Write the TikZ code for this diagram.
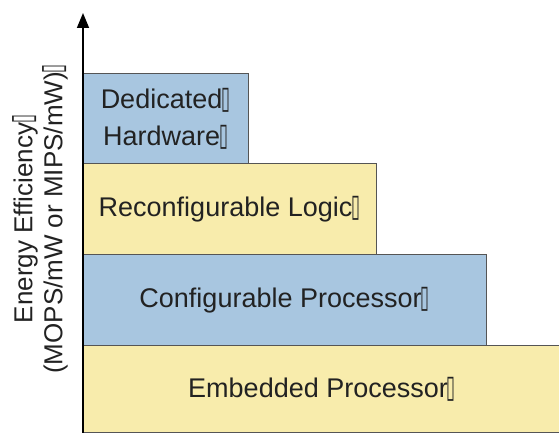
\documentclass[tikz,border=0pt]{standalone}
\usepackage{fontspec}
\usepackage{graphicx}
\setmainfont{Liberation Sans}
\newfontfamily\markfont{DejaVu Sans}
\usetikzlibrary{arrows.meta,positioning}
\definecolor{tierblue}{RGB}{168,198,224}
\definecolor{tieryellow}{RGB}{248,236,172}
\definecolor{tierline}{RGB}{85,85,85}
\definecolor{tiertext}{RGB}{34,34,34}
% trailing box mark after each label
\newcommand{\boxmark}{{\markfont\fontsize{18}{18}\selectfont\kern-1pt\scalebox{0.9}[1.75]{▯}}}
\tikzset{
  tier/.style={draw=tierline,line width=1pt,fill=#1,outer sep=0pt,inner sep=0pt,
    anchor=south west,text=tiertext,align=center,
    font=\fontsize{27}{37}\selectfont},
  axislabel/.style={rotate=90,align=center,text=tiertext,
    font=\fontsize{26}{30}\selectfont}
}

\begin{document}
\begin{tikzpicture}[x=1pt,y=1pt]
  \useasboundingbox (0,0) rectangle (559,433);
  % stacked tiers, bottom to top
  \node[tier=tieryellow,minimum width=478pt,minimum height=87pt] (embedded) at (83,0)
    {Embedded Processor\boxmark};
  \node[tier=tierblue,minimum width=403pt,minimum height=91pt] (configurable) at (embedded.north west)
    {Configurable Processor\boxmark};
  \node[tier=tieryellow,minimum width=293pt,minimum height=91pt] (reconfigurable) at (configurable.north west)
    {Reconfigurable Logic\boxmark};
  \node[tier=tierblue,minimum width=165pt,minimum height=90pt] (dedicated) at (reconfigurable.north west)
    {Dedicated\boxmark\\Hardware\boxmark};
  % axis
  \coordinate (origin) at (83,-2);
  \coordinate (top) at (83,420);
  \draw[line width=1.5pt,-{Triangle[length=15pt,width=12pt]}] (origin) -- (top);
  \node[axislabel] (efficiency) at (40,214)
    {Energy Efficiency\boxmark\\(MOPS/mW or MIPS/mW)\boxmark};
\end{tikzpicture}
\end{document}
